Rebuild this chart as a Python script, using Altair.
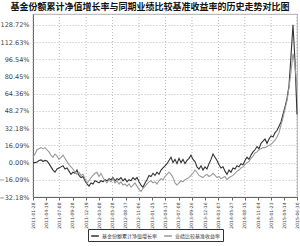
import altair as alt
import pandas as pd

title = "基金份额累计净值增长率与同期业绩比较基准收益率的历史走势对比图"
series_names = ["基金份额累计净值增长率", "业绩比较基准收益率"]

tick_dates = ["2011-01-28", "2011-04-19", "2011-07-08", "2011-09-28", "2011-12-19",
              "2012-03-08", "2012-05-28", "2012-08-17", "2012-11-06", "2013-01-25",
              "2013-04-17", "2013-07-08", "2013-09-26", "2013-12-16", "2014-03-07",
              "2014-05-27", "2014-08-15", "2014-11-04", "2015-01-23", "2015-04-14",
              "2015-06-30"]
y_ticks = [-32.18, -16.09, 0.00, 16.09, 32.18, 48.27, 64.36, 80.45, 96.54, 112.63, 128.72]

fund = [0, 0, 0.5, 2, 2.5, 1, 2, 1.5, -1, -4, -7, -9, -6, -5, -4, -3, -6, -5, -8, -11,
        -9, -10, -7, -12, -14, -13, -17, -20, -22, -19, -20, -17, -18, -19, -17, -18, -16, -17, -15, -16,
        -14, -17, -15, -16, -14, -17, -15, -18, -16, -17, -14, -16, -14, -18, -21, -23, -19, -16, -12, -13,
        -10, -12, -9, -11, -7, -5, -3, -1, 2, 5, 0, 3, -1, 4, 0, 3, -1, 2, 4, 7,
        3, 1, -4, -6, -3, -7, -4, -6, -1, 3, 8, 5, 2, -2, -5, -4, -8, -11, -7, -9,
        -5, -6, -3, -4, -1, -2, 2, 5, 3, 7, 10, 12, 15, 13, 18, 20, 22, 18, 22, 25,
        24, 28, 30, 34, 38, 45, 52, 60, 72, 100, 129, 95, 45]
bench = [5, 8, 12, 13, 14, 13, 14, 12, 10, 7, 5, 8, 6, 3, 5, 7, 4, 1, -2, -4,
         -6, -9, -11, -9, -12, -11, -15, -19, -17, -14, -12, -10, -9, -13, -10, -14, -17, -19, -16, -18,
         -15, -19, -17, -20, -18, -21, -20, -22, -20, -23, -21, -19, -22, -25, -27, -24, -22, -20, -18, -17,
         -19, -18, -20, -17, -15, -16, -13, -11, -9, -11, -14, -19, -21, -19, -17, -18, -16, -15, -14, -12,
         -10, -7, -9, -12, -13, -14, -12, -11, -13, -12, -10, -12, -14, -13, -15, -14, -13, -16, -14, -13,
         -12, -10, -8, -7, -5, -4, -2, 0, 1, 4, 6, 9, 10, 12, 13, 14, 14, 15, 16, 17,
         19, 21, 24, 28, 35, 42, 50, 58, 70, 85, 102, 90, 72]

dates = pd.date_range(tick_dates[0], tick_dates[-1], periods=len(fund))
df = pd.concat([
    pd.DataFrame({"date": dates, "value": fund, "series": series_names[0]}),
    pd.DataFrame({"date": dates, "value": bench, "series": series_names[1]}),
])
grid_df = pd.DataFrame({"date": pd.to_datetime(tick_dates[::2])})

x_scale = alt.Scale(domain=[tick_dates[0], tick_dates[-1]])
y_scale = alt.Scale(domain=[-32.18, 139.0], nice=False, zero=False)

x_axis = alt.Axis(values=tick_dates, format="%Y-%m-%d", labelAngle=270, grid=False,
                  labelFontSize=4.5, labelColor="#444", tickSize=3, tickColor="#666",
                  domainColor="#666", labelPadding=2, title=None, labelOverlap=False,
                  labelFont="DejaVu Sans", labelFlush=False, labelBound=False)

vgrid = alt.Chart(grid_df).mark_rule(color="#aaaaaa", strokeDash=[1, 2], strokeWidth=0.8).encode(
    x=alt.X("date:T", scale=x_scale, axis=x_axis)
)

lines = alt.Chart(df).mark_line(strokeWidth=1.1).encode(
    x=alt.X("date:T", scale=x_scale, axis=x_axis),
    y=alt.Y("value:Q", scale=y_scale,
            axis=alt.Axis(values=y_ticks, labelExpr="format(datum.value, '.2f') + '%'",
                          grid=True, gridColor="#aaaaaa", gridDash=[1, 2], gridWidth=0.8,
                          labelFontSize=6.5, labelColor="#444", tickSize=0, domainColor="#666",
                          labelPadding=4, title=None, labelFont="DejaVu Sans")),
    color=alt.Color("series:N", scale=alt.Scale(domain=series_names, range=["#333333", "#999999"]),
                    sort=series_names,
                    legend=alt.Legend(orient="none", legendX=55, legendY=215, direction="horizontal",
                                      title=None, labelFontSize=5, labelFont="Noto Sans CJK SC",
                                      symbolType="stroke", symbolSize=60, symbolStrokeWidth=1.5,
                                      strokeColor="#333", padding=2, columnPadding=3, labelOffset=2,
                                      labelColor="#333", symbolOffset=0)),
    detail="series:N",
)

chart = alt.layer(vgrid, lines).properties(
    width=264, height=183,
    autosize=alt.AutoSizeParams(type="none"),
    padding={"left": 33, "top": 14, "right": 3, "bottom": 49},
    title=alt.TitleParams(title, fontSize=9, font="Noto Sans CJK SC", fontWeight="bold",
                          color="#111", offset=2, dx=-15, anchor="middle"),
).configure_view(stroke="#999", strokeWidth=0.8)

chart.save("out.html", embed_options={"renderer": "svg", "actions": False})
